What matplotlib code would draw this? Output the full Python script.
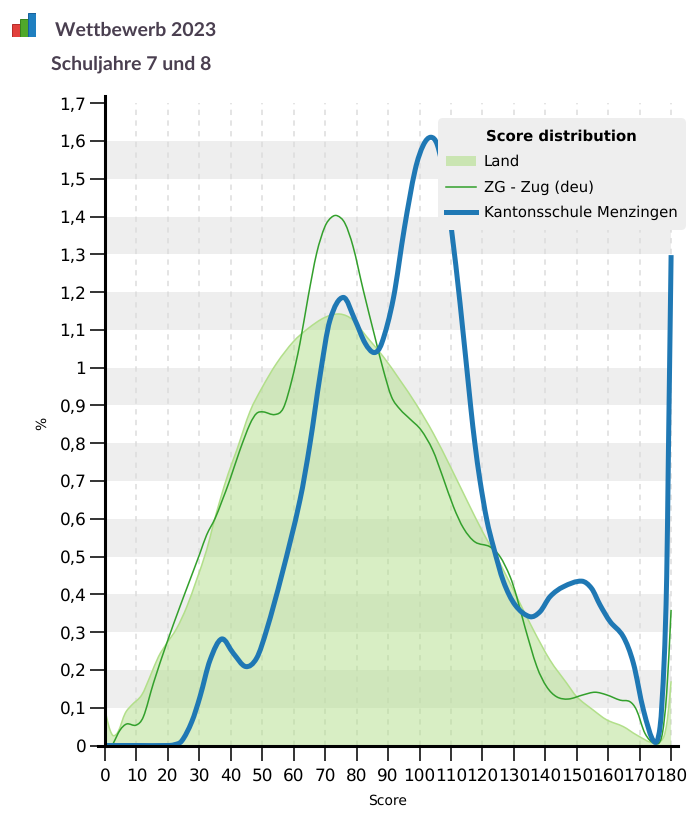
import matplotlib
matplotlib.use('Agg')
import matplotlib.pyplot as plt
from matplotlib.lines import Line2D
from matplotlib.patches import FancyBboxPatch, PathPatch, Rectangle
from matplotlib.path import Path
from matplotlib.transforms import IdentityTransform

plt.rcParams['text.hinting'] = 'no_hinting'

W, H = 700, 814

# Values
land_x = [0, 0.5, 1.6, 2.65, 4.2, 6.4, 8.5, 11.7, 14.3, 17, 19.6, 22.8, 26, 29.1, 32.3, 34.4, 36.6, 39.2, 41.9, 46.1,
          49.8, 54.6, 59.9, 64.6, 69.9, 74.7, 78.9, 83.2, 88.5, 93.8, 99.1, 104.4, 109.7, 115, 120.3, 125.6, 130.9,
          136.2, 141.5, 146.8, 150, 155.2, 159.5, 164.8, 169, 174.6, 177.5, 178.8, 180]
land_y = [0.1, 0.075, 0.041, 0.026, 0.037, 0.085, 0.107, 0.134, 0.182, 0.235, 0.27, 0.31, 0.367, 0.438, 0.517, 0.584,
          0.65, 0.72, 0.782, 0.884, 0.945, 1.012, 1.069, 1.104, 1.133, 1.142, 1.126, 1.082, 1.029, 0.967, 0.901,
          0.826, 0.74, 0.65, 0.562, 0.482, 0.394, 0.306, 0.226, 0.165, 0.129, 0.094, 0.068, 0.05, 0.028, 0.006,
          0.02, 0.068, 0.17]

zug_x = [2.65, 4.8, 6.9, 9.9, 12.2, 15.4, 19.6, 23.8, 27, 30.2, 32.3, 35, 37.1, 39.7, 42.9, 46.1, 48.2, 50.3, 54,
         56.7, 59.4, 62, 64.6, 67.3, 69.9, 72, 73.9, 76.3, 78.9, 82.1, 85.8, 88.5, 91.1, 93.8, 97, 100.5, 104.2,
         107.4, 110.8, 114, 117.6, 122.4, 125.6, 128.8, 130.9, 133.5, 137.3, 140.4, 143.6, 147.3, 152, 155.8,
         159.5, 163.8, 166.9, 169, 171.7, 174.6, 177, 178.6, 180]
zug_y = [0.006, 0.041, 0.057, 0.054, 0.076, 0.165, 0.27, 0.367, 0.438, 0.509, 0.557, 0.601, 0.645, 0.703, 0.782,
         0.851, 0.879, 0.883, 0.876, 0.893, 0.967, 1.065, 1.188, 1.303, 1.373, 1.398, 1.402, 1.382, 1.32, 1.206,
         1.082, 0.994, 0.923, 0.89, 0.864, 0.835, 0.782, 0.711, 0.632, 0.575, 0.539, 0.526, 0.5, 0.447, 0.394,
         0.314, 0.209, 0.156, 0.129, 0.123, 0.134, 0.141, 0.134, 0.12, 0.116, 0.094, 0.032, 0.007, 0.023, 0.139,
         0.359]

schule_x = [0, 10, 20, 22, 24.4, 27.6, 30.2, 33.4, 37.1, 40.8, 44.7, 48.2, 51.4, 56.2, 62, 65.2, 68.4, 71.5, 75.8,
            79.5, 82.7, 85.6, 88, 91.7, 95.2, 98.6, 101.2, 103.6, 105.7, 108, 110.2, 112.9, 116.3, 117.6, 119.2,
            121.4, 123.5, 126.7, 130.4, 135.1, 138.3, 141.5, 145.7, 151.6, 154.7, 157.4, 160.6, 164.8, 168, 171.2,
            174.6, 176.5, 177.8, 178.6, 179.1, 180]
schule_y = [0, 0, 0, 0.002, 0.012, 0.063, 0.129, 0.226, 0.282, 0.244, 0.209, 0.231, 0.306, 0.451, 0.65, 0.8, 0.98,
            1.125, 1.186, 1.126, 1.065, 1.04, 1.065, 1.184, 1.37, 1.523, 1.589, 1.61, 1.589, 1.5, 1.364, 1.17, 0.895,
            0.8, 0.703, 0.597, 0.526, 0.434, 0.372, 0.341, 0.354, 0.394, 0.42, 0.435, 0.416, 0.372, 0.328, 0.288,
            0.218, 0.094, 0.01, 0.05, 0.226, 0.447, 0.747, 1.298]

x_ticks = list(range(0, 181, 10))
y_ticks = [i / 10 for i in range(18)]
y_labels = ['0', '0,1', '0,2', '0,3', '0,4', '0,5', '0,6', '0,7', '0,8', '0,9', '1',
            '1,1', '1,2', '1,3', '1,4', '1,5', '1,6', '1,7']
band_low = [0.1, 0.3, 0.5, 0.7, 0.9, 1.1, 1.3, 1.5]
icon_heights = [13, 18, 24]
icon_colors = ['#e2403c', '#4fa82a', '#1f7fc0']
icon_edges = ['#b52a28', '#37831c', '#15609a']


# Bezier path through the read points, so the curves stay round like the original
def smooth_path(xs, ys, close_to_zero=False):
    n = len(xs)
    slopes = []
    for i in range(n):
        a, b = max(i - 1, 0), min(i + 1, n - 1)
        slopes.append((ys[b] - ys[a]) / (xs[b] - xs[a]))
    verts = [(xs[0], ys[0])]
    codes = [Path.MOVETO]
    for i in range(n - 1):
        d = (xs[i + 1] - xs[i]) / 3
        verts += [(xs[i] + d, ys[i] + slopes[i] * d), (xs[i + 1] - d, ys[i + 1] - slopes[i + 1] * d),
                  (xs[i + 1], ys[i + 1])]
        codes += [Path.CURVE4] * 3
    if close_to_zero:
        verts += [(xs[-1], 0), (xs[0], 0), (xs[0], ys[0])]
        codes += [Path.LINETO, Path.LINETO, Path.CLOSEPOLY]
    return Path(verts, codes)


# px scale of the original: 3.145 px per score point, 377.8 px per 1 %
x0, y0 = 105, 745.5
sx, sy = 3.145, 377.8
left, right, top = 98, 678, 96

fig = plt.figure(figsize=(W / 100, H / 100), dpi=100)
ax = fig.add_axes([left / W, 1 - y0 / H, (right - left) / W, (y0 - top) / H])
ax.set_xlim((left - x0) / sx, (right - x0) / sx)
ax.set_ylim(0, (y0 - top) / sy)

# Stripes and grid
for low in band_low:
    ax.fill_between([0, 180], low, low + 0.1, color='#eeeeee', lw=0, zorder=1)
ax.vlines(x_ticks[1:], 0, 1.7, colors='#dddddd', lw=1.1, linestyles=(0, (3.5, 3.5)), zorder=1.5)

ax.add_patch(PathPatch(smooth_path(land_x, land_y, True), fc='#b2df8a', alpha=0.5, lw=0, zorder=2))
ax.add_patch(PathPatch(smooth_path(land_x, land_y), fill=False, ec='#b2df8a', lw=1.1, zorder=2.1))
ax.add_patch(PathPatch(smooth_path(zug_x, zug_y), fill=False, ec='#33a02c', lw=1.1, zorder=3))
ax.add_patch(PathPatch(smooth_path(schule_x, schule_y), fill=False, ec='#1f78b4', lw=3.6, zorder=4,
                       capstyle='butt', joinstyle='round'))

# Axes
for s in ['top', 'right']:
    ax.spines[s].set_visible(False)
ax.spines['left'].set_position(('data', 0))
ax.spines['left'].set_linewidth(2.2)
ax.spines['bottom'].set_linewidth(2.2)
ax.spines['left'].set_zorder(6)
ax.spines['bottom'].set_zorder(6)
ax.set_xticks(x_ticks)
ax.set_yticks(y_ticks)
ax.set_yticklabels(y_labels)
ax.tick_params(axis='x', length=10.5, width=1.4, color='#333333', pad=5.5, labelsize=12.2, labelcolor='black')
ax.tick_params(axis='y', length=10.5, width=1.4, color='#333333', pad=3, labelsize=12.2, labelcolor='black')

fig.text(388 / W, 1 - 801 / H, 'Score', ha='center', va='center', fontsize=10)
fig.text(42 / W, 1 - 423 / H, '%', ha='center', va='center', rotation=90, fontsize=10)

# Legend: rounded box in px, entries in a frameless legend on top of it
ax.add_patch(FancyBboxPatch((438, H - 230), 248, 112, boxstyle='round,pad=0,rounding_size=5', fc='#eeeeee',
                            ec='none', transform=IdentityTransform(), clip_on=False, zorder=9))
handles = [Rectangle((0, 0), 1, 1, fc='#b2df8a', alpha=0.6, lw=0),
           Line2D([], [], color='#33a02c', lw=1.1),
           Line2D([], [], color='#1f78b4', lw=3.6)]
leg = ax.legend(handles, ['Land', 'ZG - Zug (deu)', 'Kantonsschule Menzingen'],
                title='Score distribution', title_fontproperties={'weight': 'bold', 'size': 10.7},
                loc='upper left', bbox_to_anchor=(446 / W, 1 - 129 / H), bbox_transform=fig.transFigure,
                fontsize=10.7, labelspacing=0.75, handlelength=2.0, handletextpad=0.54, borderpad=0,
                borderaxespad=0, frameon=False)
leg.set_zorder(10)

# Header
fig.text(55 / W, 1 - 30 / H, 'Wettbewerb 2023', family='Lato', weight='bold', fontsize=14,
         color='#4a3f50', va='center')
fig.text(51 / W, 1 - 64 / H, 'Schuljahre 7 und 8', family='Lato', weight='bold', fontsize=14,
         color='#4a3f50', va='center')

icon = fig.add_axes([12 / W, 1 - 36.5 / H, 24 / W, 24 / H])
icon.bar(range(3), icon_heights, width=0.95, color=icon_colors, edgecolor=icon_edges, lw=0.7)
icon.set_xlim(-0.5, 2.5)
icon.set_ylim(0, 24)
icon.axis('off')

fig.savefig('out.png', dpi=100)
